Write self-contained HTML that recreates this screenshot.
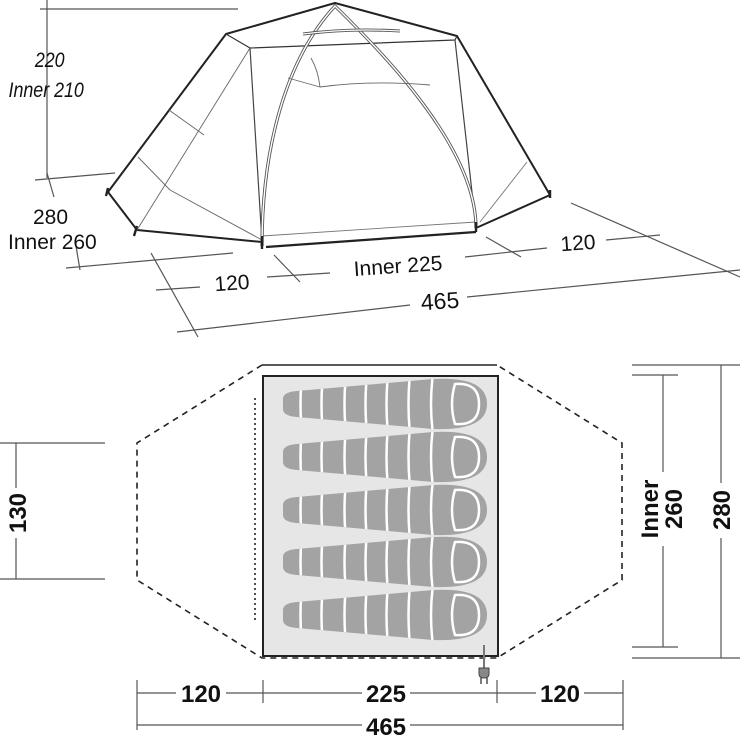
<!DOCTYPE html>
<html><head><meta charset="utf-8"><style>
html,body{margin:0;padding:0;background:#fff}
svg{display:block}
text{font-family:"Liberation Sans",sans-serif;font-weight:bold;fill:#111}
.n{font-weight:normal}
</style></head><body>
<svg width="740" height="743" viewBox="0 0 740 743" xmlns="http://www.w3.org/2000/svg">
<defs>
<path id="bag" d="M0,-5 Q0,-12 14,-13 L150,-25 Q204,-28 204,0 Q204,27 150,25 L14,13 Q0,12 0,5 Z"/>
<clipPath id="bc"><use href="#bag"/></clipPath>
<g id="sb">
<use href="#bag" fill="#a3a3a3"/>
<g clip-path="url(#bc)" stroke="#fff" stroke-width="2.5" fill="none">
<path d="M19,-30 Q16,0 19,30 M40,-30 Q37,0 40,30 M63,-30 Q60,0 63,30 M84,-30 Q81,0 84,30 M105,-30 Q102,0 105,30 M127,-30 Q124,0 127,30 M150,-30 Q146,0 150,30"/>
</g>
<path d="M172,-20 Q196,-22 196,0 Q196,22 172,20 Q166,0 172,-20 Z" fill="none" stroke="#fff" stroke-width="2.5"/>
</g>
</defs>

<!-- ===== TOP: tent perspective ===== -->
<g stroke="#555" stroke-width="1.2" fill="none">
<line x1="47" y1="0" x2="47" y2="178"/>
<line x1="40" y1="9" x2="238" y2="9"/>
<line x1="35" y1="180" x2="115" y2="173"/>
<line x1="47" y1="173" x2="54" y2="197"/>
<line x1="66" y1="268" x2="233" y2="253"/>
<line x1="75" y1="240" x2="80" y2="270"/>
<line x1="151" y1="253" x2="198" y2="337"/>
<line x1="274" y1="255" x2="300" y2="282"/>
<line x1="486" y1="237" x2="521" y2="257"/>
<line x1="571" y1="203" x2="740" y2="277"/>
<line x1="156" y1="290" x2="200" y2="287"/>
<line x1="267" y1="277" x2="330" y2="273"/>
<line x1="465" y1="257" x2="547" y2="248"/>
<line x1="606" y1="240" x2="660" y2="235"/>
<line x1="177" y1="332" x2="410" y2="305"/>
<line x1="467" y1="297" x2="740" y2="270"/>
</g>
<g fill="none" stroke-linejoin="round">
<path d="M108,192 L226,34 L335,3 L457,36 L550,195" stroke="#222" stroke-width="2"/>
<path d="M137,230 L262,242 M476,228 L550,195 M108,192 L137,230" stroke="#222" stroke-width="2"/>
<path d="M266,247 L476,232" stroke="#222" stroke-width="2.2"/>
<path d="M226,34 L250,48 L455,40 L457,36" stroke="#333" stroke-width="1.2"/>
<path d="M250,48 L262,242 M455,40 L476,228" stroke="#444" stroke-width="1.2"/>
<path d="M250,48 L137,230" stroke="#666" stroke-width="0.9"/>
<path d="M169,110 L204,135 M138,157 L170,190 L262,240" stroke="#666" stroke-width="0.9"/>
<path d="M527,162 L480,222 M262,236 L476,222" stroke="#777" stroke-width="0.9"/>
<path d="M262,246 C262,150 285,60 335,6 C390,60 476,150 476,228" stroke="#555" stroke-width="3.2"/>
<path d="M262,246 C262,150 285,60 335,6 C390,60 476,150 476,228" stroke="#fff" stroke-width="1.4"/>
<path d="M303,34 Q350,28 400,31" stroke="#555" stroke-width="3"/>
<path d="M303,34 Q350,28 400,31" stroke="#fff" stroke-width="1.2"/>
<path d="M311,58 Q318,70 320,87 L288,78 M320,87 Q370,80 430,85" stroke="#666" stroke-width="0.9"/>
<path d="M262,236 L262,249 M476,222 L476,232 M108,188 L106,196 M137,226 L134,236 M550,190 L550,198" stroke="#222" stroke-width="2.4"/>
</g>
<g font-style="italic" font-size="21" transform="scale(0.85,1)">
<text class="n" x="41" y="67">220</text>
<text class="n" x="10" y="97">Inner 210</text>
</g>
<text class="n" x="33" y="224" font-size="21">280</text>
<text class="n" x="8" y="249" font-size="21">Inner 260</text>
<text class="n" x="232" y="290" font-size="21" text-anchor="middle" transform="rotate(-4 232 283)">120</text>
<text class="n" x="398" y="273" font-size="21" text-anchor="middle" transform="rotate(-4 398 266)">Inner 225</text>
<text class="n" x="578" y="250" font-size="21" text-anchor="middle" transform="rotate(-4 578 243)">120</text>
<text class="n" x="440" y="309" font-size="23" text-anchor="middle" transform="rotate(-4 440 301)">465</text>

<!-- ===== BOTTOM: floor plan ===== -->
<path d="M262,365 L137,443 L137,580 L262,658 L497,658 L622,580 L622,443 L497,365" fill="none" stroke="#222" stroke-width="1.6" stroke-dasharray="6,5"/>
<line x1="262" y1="365" x2="497" y2="365" stroke="#222" stroke-width="1.6"/>
<line x1="255" y1="398" x2="255" y2="622" stroke="#222" stroke-width="1.6" stroke-dasharray="2,3"/>
<rect x="263" y="376" width="235" height="280" fill="#e6e6e6" stroke="#222" stroke-width="2"/>
<use href="#sb" transform="translate(283,404)"/>
<use href="#sb" transform="translate(283,457)"/>
<use href="#sb" transform="translate(283,510)"/>
<use href="#sb" transform="translate(283,562)"/>
<use href="#sb" transform="translate(283,615)"/>
<line x1="484" y1="645" x2="484" y2="668" stroke="#777" stroke-width="2"/>
<path d="M479,668 h10 v6 q0,4 -5,4 q-5,0 -5,-4 z" fill="#888" stroke="#444" stroke-width="1"/>
<path d="M481,678 v6 M487,678 v6" stroke="#444" stroke-width="1.4"/>

<g stroke="#555" stroke-width="1.2" fill="none">
<line x1="0" y1="443" x2="105" y2="443"/>
<line x1="0" y1="579" x2="105" y2="579"/>
<line x1="16" y1="443" x2="16" y2="488"/>
<line x1="16" y1="538" x2="16" y2="579"/>
<line x1="632" y1="375" x2="678" y2="375"/>
<line x1="632" y1="647" x2="678" y2="647"/>
<line x1="663" y1="375" x2="663" y2="472"/>
<line x1="663" y1="546" x2="663" y2="647"/>
<line x1="632" y1="365" x2="740" y2="365"/>
<line x1="632" y1="658" x2="740" y2="658"/>
<line x1="721" y1="365" x2="721" y2="483"/>
<line x1="721" y1="538" x2="721" y2="658"/>
<line x1="137" y1="693" x2="176" y2="693"/>
<line x1="226" y1="693" x2="263" y2="693"/>
<line x1="263" y1="693" x2="362" y2="693"/>
<line x1="410" y1="693" x2="497" y2="693"/>
<line x1="497" y1="693" x2="536" y2="693"/>
<line x1="584" y1="693" x2="623" y2="693"/>
<line x1="137" y1="725" x2="362" y2="725"/>
<line x1="410" y1="725" x2="623" y2="725"/>
<line x1="137" y1="680" x2="137" y2="730"/>
<line x1="263" y1="680" x2="263" y2="703"/>
<line x1="497" y1="680" x2="497" y2="703"/>
<line x1="623" y1="680" x2="623" y2="730"/>
</g>
<text font-size="24" text-anchor="middle" transform="translate(26,513) rotate(-90)">130</text>
<text font-size="24" text-anchor="middle" transform="translate(658,509) rotate(-90)">Inner</text>
<text font-size="24" text-anchor="middle" transform="translate(682,509) rotate(-90)">260</text>
<text font-size="24" text-anchor="middle" transform="translate(730,510) rotate(-90)">280</text>
<text x="201" y="702" font-size="24" text-anchor="middle">120</text>
<text x="386" y="702" font-size="24" text-anchor="middle">225</text>
<text x="560" y="702" font-size="24" text-anchor="middle">120</text>
<text x="386" y="735" font-size="24" text-anchor="middle">465</text>
</svg>
</body></html>
